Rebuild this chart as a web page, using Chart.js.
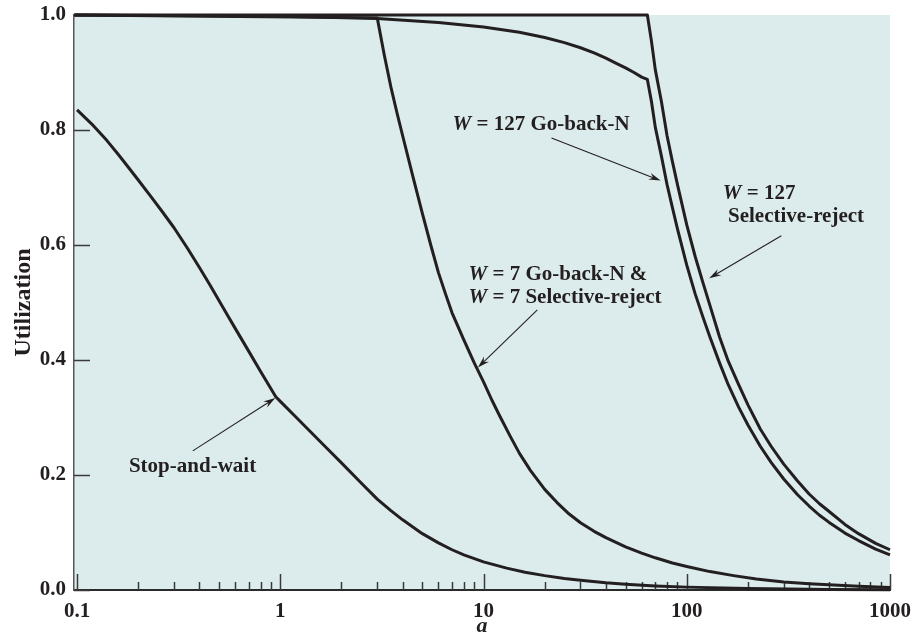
<!DOCTYPE html>
<html>
<head>
<meta charset="utf-8">
<script src="https://cdn.jsdelivr.net/npm/chart.js@4.4.1/dist/chart.umd.min.js"></script>
<style>
body{margin:0;background:#fff;}
#wrap{width:915px;height:641px;position:relative;}
</style>
</head>
<body>
<div id="wrap"><canvas id="utilChart"></canvas></div>
<script>
// values (a on log axis, utilization 0..1)
const stopWaitA = [0.1, 0.12, 0.14, 0.16, 0.18, 0.2, 0.23, 0.26, 0.3, 0.35, 0.4, 0.45, 0.5, 0.55, 0.6, 0.7, 0.8, 0.95,
    1, 1.2, 1.4, 1.7, 2, 2.5, 3, 3.5, 4, 5, 6, 7, 8, 10, 13, 16, 20, 25, 30, 40, 50, 70, 100, 200, 500, 1000];
const stopWaitU = [0.835, 0.808, 0.782, 0.757, 0.734, 0.713, 0.685, 0.66, 0.63, 0.594, 0.561, 0.531, 0.503, 0.478, 0.455, 0.415, 0.38, 0.336,
    0.328, 0.3, 0.276, 0.246, 0.221, 0.186, 0.158, 0.138, 0.122, 0.098, 0.082, 0.07, 0.061, 0.049, 0.038, 0.031, 0.025, 0.02, 0.017, 0.0125, 0.01, 0.007, 0.005, 0.0025, 0.001, 0.0005];

const w7A = [0.097, 3, 3.25, 3.5, 3.75, 4, 4.5, 5, 5.5, 6, 6.5, 7, 8, 9, 10, 11, 12, 13.5, 15, 17, 20, 23, 26, 30, 35, 40, 50, 60, 70, 85, 100, 130, 170, 220, 300, 400, 500, 700, 1000];
const w7U = [1.0, 0.995, 0.93, 0.875, 0.83, 0.79, 0.718, 0.655, 0.6, 0.552, 0.515, 0.482, 0.435, 0.395, 0.362, 0.33, 0.303, 0.268, 0.238, 0.208, 0.175, 0.152, 0.134, 0.117, 0.102, 0.091, 0.075, 0.064, 0.056, 0.047, 0.041, 0.032, 0.025, 0.019, 0.014, 0.011, 0.009, 0.0065, 0.0045];

const w127SrA = [0.097, 64, 67, 70, 75, 80, 85, 90, 100, 110, 120, 130, 145, 160, 180, 200, 230, 260, 300, 350, 400, 450, 500, 600, 700, 850, 1000];
const w127SrU = [1.0, 1.0, 0.955, 0.905, 0.85, 0.79, 0.745, 0.705, 0.635, 0.58, 0.535, 0.495, 0.44, 0.398, 0.357, 0.322, 0.28, 0.25, 0.219, 0.19, 0.167, 0.15, 0.137, 0.114, 0.098, 0.081, 0.07];

const w127GbnA = [0.097, 1, 3, 6, 10, 15, 20, 25, 30, 35, 40, 45, 50, 55, 60, 64, 67, 70, 75, 80, 85, 90, 100, 110, 120, 130, 145, 160, 180, 200, 230, 260, 300, 350, 400, 450, 500, 600, 700, 850, 1000];
const w127GbnU = [1.0, 0.998, 0.994, 0.987, 0.979, 0.97, 0.961, 0.952, 0.943, 0.934, 0.925, 0.916, 0.908, 0.9, 0.892, 0.888, 0.85, 0.805, 0.755, 0.705, 0.665, 0.628, 0.565, 0.515, 0.475, 0.44, 0.395, 0.357, 0.318, 0.287, 0.25, 0.222, 0.193, 0.166, 0.146, 0.13, 0.118, 0.099, 0.086, 0.071, 0.061];

const xMajor = [0.1, 1, 10, 100, 1000];
const yTicks = [0, 0.2, 0.4, 0.6, 0.8, 1.0];

const ink = '#231f20';
const serif = '"Liberation Serif", "Times New Roman", serif';

function pts(xs, ys){
    return xs.map(function(x, i){ return {x: x, y: ys[i]}; });
}

let xMinor = [];
[0.1, 1, 10, 100].forEach(function(d){
    for(let k = 2; k <= 9; k++) xMinor.push(d * k);
});

// label text pieces: [text, italic]
const notes = [
    {lines: [[["W", true], [" = 127 Go-back-N", false]]], a: 7.04, u: 0.80, tail: [21.6, 0.786], tip: [74.4, 0.712]},
    {lines: [[["W", true], [" = 127", false]], [[" Selective-reject", false]]], a: 150.4, u: 0.68, tail: [292, 0.616], tip: [128.9, 0.542]},
    {lines: [[["W", true], [" = 7 Go-back-N &", false]], [["W", true], [" = 7 Selective-reject", false]]], a: 8.44, u: 0.539, tail: [18.4, 0.487], tip: [9.38, 0.387]},
    {lines: [[["Stop-and-wait", false]]], a: 0.18, u: 0.205, tail: [0.371, 0.242], tip: [0.945, 0.334]}
];

const panelBg = {
    id: 'panelBg',
    beforeDraw(chart){
        const {ctx, chartArea} = chart;
        ctx.save();
        ctx.fillStyle = '#dcebeb';
        ctx.fillRect(chartArea.left, chartArea.top, chartArea.right - chartArea.left, chartArea.bottom - chartArea.top);
        ctx.restore();
    },
    beforeDatasetsDraw(chart){
        const {ctx, chartArea} = chart;
        const xs = chart.scales.x, ys = chart.scales.y;
        ctx.save();
        ctx.strokeStyle = '#3a3a3a';
        ctx.lineWidth = 1.5;
        ctx.beginPath();
        xMajor.forEach(function(v){
            const px = Math.round(xs.getPixelForValue(v)) + 0.5;
            ctx.moveTo(px, chartArea.bottom);
            ctx.lineTo(px, chartArea.bottom - 16);
        });
        xMinor.forEach(function(v){
            const px = Math.round(xs.getPixelForValue(v)) + 0.5;
            ctx.moveTo(px, chartArea.bottom);
            ctx.lineTo(px, chartArea.bottom - 8);
        });
        yTicks.forEach(function(v){
            const py = Math.round(ys.getPixelForValue(v)) + 0.5;
            ctx.moveTo(chartArea.left, py);
            ctx.lineTo(chartArea.left + 16, py);
        });
        ctx.stroke();
        ctx.restore();
    },
    afterDatasetsDraw(chart){
        const {ctx} = chart;
        const xs = chart.scales.x, ys = chart.scales.y;
        ctx.save();
        ctx.fillStyle = ink;
        ctx.strokeStyle = ink;
        ctx.textBaseline = 'alphabetic';
        notes.forEach(function(n){
            let x0 = xs.getPixelForValue(n.a);
            let y0 = ys.getPixelForValue(n.u);
            n.lines.forEach(function(line, li){
                let x = x0;
                line.forEach(function(part){
                    ctx.font = (part[1] ? 'italic ' : '') + 'bold 21px ' + serif;
                    ctx.fillText(part[0], x, y0 + li * 22.5);
                    x += ctx.measureText(part[0]).width;
                });
            });
            // arrow
            const tx = xs.getPixelForValue(n.tail[0]), ty = ys.getPixelForValue(n.tail[1]);
            const hx = xs.getPixelForValue(n.tip[0]), hy = ys.getPixelForValue(n.tip[1]);
            const ang = Math.atan2(hy - ty, hx - tx);
            ctx.lineWidth = 1.1;
            ctx.beginPath();
            ctx.moveTo(tx, ty);
            ctx.lineTo(hx - 6 * Math.cos(ang), hy - 6 * Math.sin(ang));
            ctx.stroke();
            ctx.beginPath();
            ctx.moveTo(hx, hy);
            ctx.lineTo(hx - 12 * Math.cos(ang) + 3.6 * Math.sin(ang), hy - 12 * Math.sin(ang) - 3.6 * Math.cos(ang));
            ctx.lineTo(hx - 8 * Math.cos(ang), hy - 8 * Math.sin(ang));
            ctx.lineTo(hx - 12 * Math.cos(ang) - 3.6 * Math.sin(ang), hy - 12 * Math.sin(ang) + 3.6 * Math.cos(ang));
            ctx.closePath();
            ctx.fill();
        });
        ctx.restore();
    }
};

function lineSet(label, xs, ys){
    return {
        label: label,
        data: pts(xs, ys),
        borderColor: ink,
        borderWidth: 3,
        borderJoinStyle: 'round',
        pointRadius: 0,
        tension: 0,
        fill: false,
        clip: 6
    };
}

const ctx = document.getElementById('utilChart');

new Chart(ctx, {
    type: 'line',
    data: {
        datasets: [
            lineSet('Stop-and-wait', stopWaitA, stopWaitU),
            lineSet('W = 7', w7A, w7U),
            lineSet('W = 127 Selective-reject', w127SrA, w127SrU),
            lineSet('W = 127 Go-back-N', w127GbnA, w127GbnU)
        ]
    },
    options: {
        responsive: true,
        maintainAspectRatio: false,
        animation: false,
        layout: {padding: {top: 15, right: 25, left: 0, bottom: 0}},
        plugins: {legend: {display: false}, tooltip: {enabled: false}},
        scales: {
            x: {
                type: 'logarithmic',
                min: 0.0966,
                max: 1000,
                afterBuildTicks: function(scale){
                    scale.ticks = xMajor.map(function(v){ return {value: v}; });
                },
                afterFit: function(scale){
                    scale.height = 51;
                    scale.paddingLeft = 0;
                    scale.paddingRight = 0;
                },
                grid: {display: false, drawTicks: false},
                border: {display: true, color: '#2a2a2a', width: 2},
                ticks: {
                    autoSkip: false,
                    maxRotation: 0,
                    padding: 9,
                    color: ink,
                    font: {family: serif, size: 21, weight: 'bold'},
                    callback: function(v){ return String(v); }
                },
                title: {
                    display: true,
                    text: 'a',
                    color: ink,
                    padding: {top: 0, bottom: 1},
                    font: {family: serif, size: 22, weight: 'bold', style: 'italic'}
                }
            },
            y: {
                min: 0,
                max: 1,
                afterBuildTicks: function(scale){
                    scale.ticks = yTicks.map(function(v){ return {value: v}; });
                },
                afterFit: function(scale){
                    scale.width = 74;
                    scale.paddingTop = 0;
                    scale.paddingBottom = 0;
                },
                grid: {display: false, drawTicks: false},
                border: {display: true, color: '#555', width: 1.5},
                ticks: {
                    padding: 8,
                    color: ink,
                    font: {family: serif, size: 21, weight: 'bold'},
                    callback: function(v){ return Number(v).toFixed(1); }
                },
                title: {
                    display: true,
                    text: 'Utilization',
                    color: ink,
                    padding: {top: 9, bottom: 0},
                    font: {family: serif, size: 24, weight: 'bold'}
                }
            }
        }
    },
    plugins: [panelBg]
});
</script>
</body>
</html>
